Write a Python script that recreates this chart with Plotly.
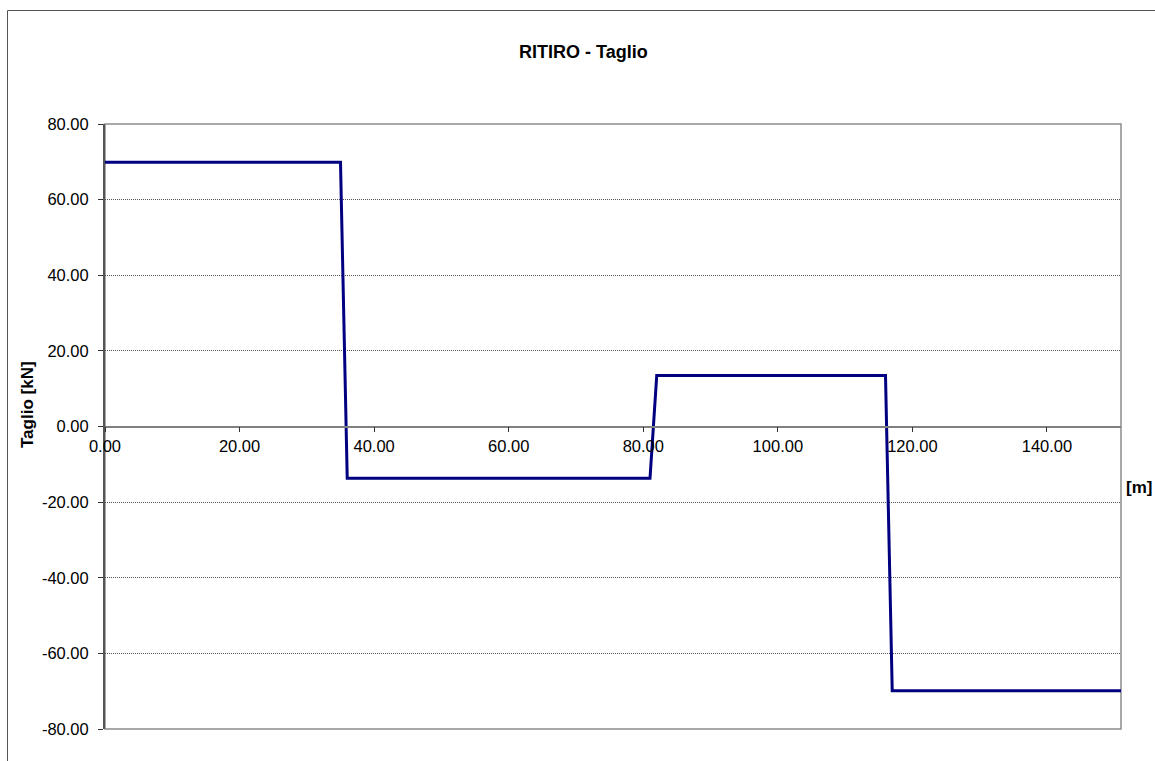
import plotly.graph_objects as go

# Data
x_m = [0.0, 35.0, 36.0, 81.0, 82.0, 116.0, 117.0, 151.0]
taglio_kN = [69.9, 69.9, -13.7, -13.7, 13.5, 13.5, -69.9, -69.9]

y_tick_vals = [-80, -60, -40, -20, 0, 20, 40, 60, 80]
y_tick_text = ["-80.00", "-60.00", "-40.00", "-20.00", "0.00", "20.00", "40.00", "60.00", "80.00"]
x_tick_vals = [0, 20, 40, 60, 80, 100, 120, 140]
x_tick_text = ["0.00", "20.00", "40.00", "60.00", "80.00", "100.00", "120.00", "140.00"]

title_text = "RITIRO - Taglio"
y_title = "Taglio [kN]"
x_title = "[m]"

W, H = 1155, 761
L, R, T, B = 105, 34, 124, 32
pw = W - L - R
ph = H - T - B

def px_x(px):
    return (px - L) / pw

def px_y(py):
    return (H - B - py) / ph

FONT = "Arial, Liberation Sans, sans-serif"

fig = go.Figure()
fig.add_trace(go.Scatter(
    x=x_m, y=taglio_kN, mode="lines",
    line=dict(color="#000080", width=3),
    showlegend=False, hoverinfo="skip",
))

fig.update_layout(
    width=W, height=H,
    margin=dict(l=L, r=R, t=T, b=B, pad=0),
    paper_bgcolor="white", plot_bgcolor="white",
    font=dict(family=FONT, size=16.5, color="black"),
    xaxis=dict(
        range=[0, 151], tickmode="array", tickvals=x_tick_vals, ticktext=x_tick_text,
        anchor="free", position=0.5,
        showline=True, linecolor="#808080", linewidth=1.5,
        ticks="outside", ticklen=5, tickcolor="#333", tickwidth=1,
        showgrid=False, zeroline=False,
        tickfont=dict(family=FONT, size=16.5, color="black"),
    ),
    yaxis=dict(
        range=[-80, 80], tickmode="array", tickvals=y_tick_vals, ticktext=y_tick_text,
        showline=True, linecolor="#555", linewidth=2,
        ticks="outside", ticklen=5, tickcolor="#333", tickwidth=1,
        showgrid=True, gridcolor="#555", griddash="1px,1px", gridwidth=1,
        zeroline=False, ticklabelstandoff=6,
        tickfont=dict(family=FONT, size=16.5, color="black"),
    ),
    shapes=[
        # plot area frame
        dict(type="rect", xref="paper", yref="paper", x0=0, x1=1, y0=0, y1=1,
             line=dict(color="#8c8c8c", width=1.5), layer="below"),
        # outer chart border (left and top)
        dict(type="line", xref="paper", yref="paper",
             x0=px_x(7.5), x1=px_x(7.5), y0=px_y(770), y1=px_y(10.5),
             line=dict(color="#555", width=1)),
        dict(type="line", xref="paper", yref="paper",
             x0=px_x(7.5), x1=px_x(1170), y0=px_y(10.5), y1=px_y(10.5),
             line=dict(color="#555", width=1)),
    ],
    annotations=[
        dict(text=f"<b>{title_text}</b>", xref="paper", yref="paper",
             x=px_x(583), y=px_y(52), showarrow=False,
             font=dict(family=FONT, size=18, color="black"),
             xanchor="center", yanchor="middle"),
        dict(text=f"<b>{y_title}</b>", xref="paper", yref="paper",
             x=px_x(27), y=px_y(405), showarrow=False, textangle=-90,
             font=dict(family=FONT, size=17, color="black"),
             xanchor="center", yanchor="middle"),
        dict(text=f"<b>{x_title}</b>", xref="paper", yref="paper",
             x=px_x(1139), y=px_y(487), showarrow=False,
             font=dict(family=FONT, size=17, color="black"),
             xanchor="center", yanchor="middle"),
    ],
)

fig.write_html(
    "out.html",
    config={"displayModeBar": False},
    post_script="document.body.style.margin='0px';document.body.style.overflow='hidden';",
)
